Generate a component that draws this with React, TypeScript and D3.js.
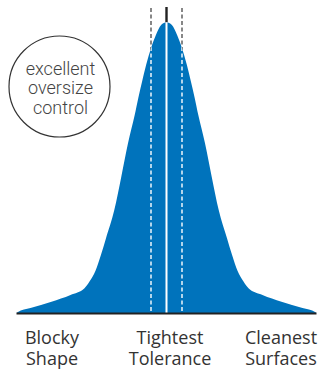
import React from "react";
import * as d3 from "d3";

// Deviation from nominal (arbitrary units) and relative frequency (% of peak)
const deviation = [
  -150, -149, -136, -115, -96, -82, -77, -71, -65.5, -60.5, -52.2, -45.2, -38.5, -31.8, -28.2, -24.4, -20.4, -15.4, -10.6, -5.4,
  0,
  5.4, 10.6, 15.4, 20.4, 24.4, 28.2, 31.8, 38.5, 45.2, 52.2, 60.5, 65.5, 71, 77, 82, 96, 115, 136, 149, 150,
];
const frequency = [
  0, 0.3, 1.7, 3.9, 6.2, 8.5, 10.8, 14.5, 20, 25.7, 35.4, 46.9, 58.4, 68.1, 74.0, 79.6, 85.3, 91.2, 95.6, 99.1,
  100,
  99.1, 95.6, 91.2, 85.3, 79.6, 74.0, 68.1, 58.4, 46.9, 35.4, 25.7, 20, 14.5, 10.8, 8.5, 6.2, 3.9, 1.7, 0.3, 0,
];
const toleranceBand = [-15.5, 15.5];
const circleLines = ["excellent", "oversize", "control"];
const axisLabels = [
  { pos: -114.5, lines: ["Blocky", "Shape"] },
  { pos: 3.5, lines: ["Tightest", "Tolerance"] },
  { pos: 114.5, lines: ["Cleanest", "Surfaces"] },
];

const W = 322;
const H = 371;
const BLUE = "#0073bc";

export default function App() {
  const x = d3.scaleLinear().domain([-150, 150]).range([16.5, 316.5]);
  const y = d3.scaleLinear().domain([0, 100]).range([313, 22.3]);
  const pts = deviation.map((d, i) => [d, frequency[i]] as [number, number]);
  const area = d3
    .area<[number, number]>()
    .x((d) => x(d[0]))
    .y0(y(0))
    .y1((d) => y(d[1]))
    .curve(d3.curveMonotoneX)(pts) as string;

  const font = "'Open Sans', 'Lato', sans-serif";
  return (
    <svg
      width={W}
      height={H}
      style={{ position: "absolute", left: 0, top: 0, background: "#fff" }}
    >
      <defs>
        <clipPath id="bell">
          <path d={area} />
        </clipPath>
      </defs>
      {toleranceBand.map((t) => (
        <line
          key={"g" + t}
          x1={x(t)}
          x2={x(t)}
          y1={8}
          y2={y(0)}
          stroke="#555"
          strokeWidth={1.4}
          strokeDasharray="4 2.5"
        />
      ))}
      <path d={area} fill={BLUE} />
      {toleranceBand.map((t) => (
        <line
          key={"w" + t}
          x1={x(t)}
          x2={x(t)}
          y1={8}
          y2={y(0)}
          stroke="#fff"
          strokeWidth={1.4}
          strokeDasharray="4 2.5"
          clipPath="url(#bell)"
        />
      ))}
      <line x1={x(0)} x2={x(0)} y1={7} y2={y(100)} stroke="#222" strokeWidth={2.4} />
      <line x1={x(0)} x2={x(0)} y1={y(100)} y2={y(0)} stroke="#fff" strokeWidth={2} />
      <line x1={x(-150)} x2={x(150)} y1={y(0) + 0.5} y2={y(0) + 0.5} stroke="#222" strokeWidth={2} />

      <circle cx={59.5} cy={86.5} r={50.5} fill="#fff" stroke="#333" strokeWidth={1.2} />
      {circleLines.map((t, i) => (
        <text
          key={t}
          x={60.5}
          y={75 + i * 19.3}
          textAnchor="middle"
          fontFamily="Roboto, 'Open Sans', sans-serif"
          fontWeight={300}
          fontSize={18}
          fill="#444"
        >
          {t}
        </text>
      ))}

      {axisLabels.map((l) =>
        l.lines.map((t, i) => (
          <text
            key={t}
            x={x(l.pos)}
            y={344.3 + i * 21}
            textAnchor="middle"
            fontFamily={font}
            fontSize={18}
            fill="#333"
          >
            {t}
          </text>
        ))
      )}
    </svg>
  );
}
